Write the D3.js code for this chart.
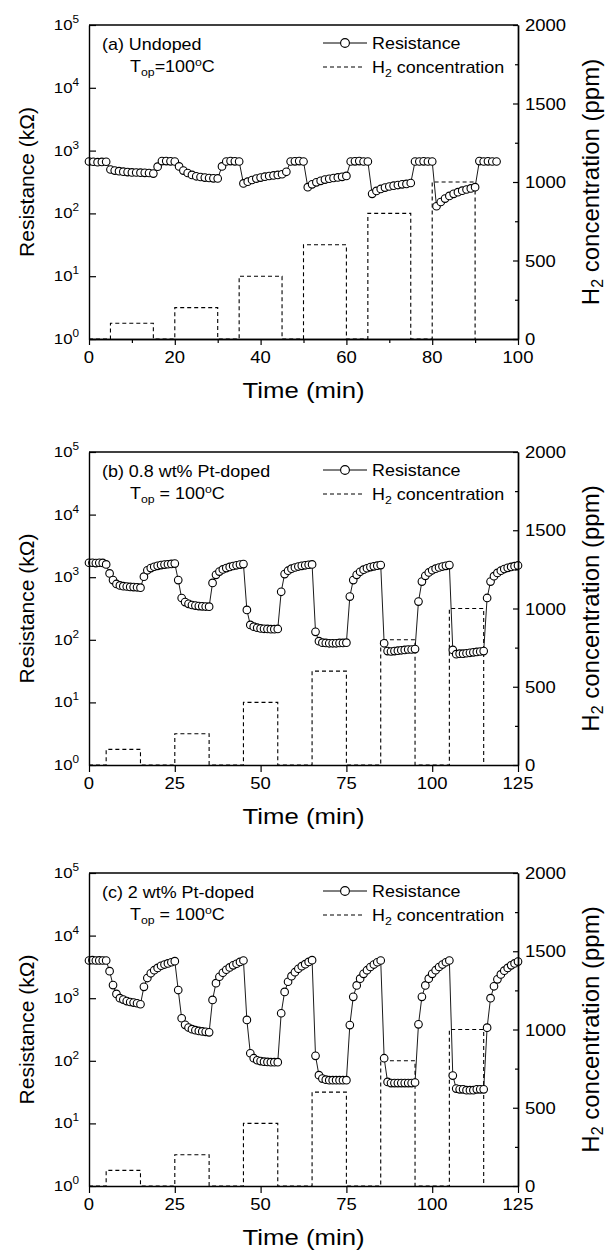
<!DOCTYPE html>
<html>
<head>
<meta charset="utf-8">
<script src="https://cdn.jsdelivr.net/npm/d3@7"></script>
<style>
  body { margin: 0; background: #fff; }
  text { font-family: "Liberation Sans", Arial, sans-serif; fill: #000; }
  .axis path, .axis line { stroke: #000; }
</style>
</head>
<body>
<div id="chart"></div>
<script>
// resistance (kOhm), one reading per minute starting at t = 0
var resA = [670, 665, 655, 660, 665,
  500, 480, 470, 462, 455, 450, 448, 445, 442, 440, 430,
  555, 680, 680, 675, 670,
  560, 480, 440, 410, 390, 380, 372, 366, 362, 360,
  560, 670, 680, 675, 670,
  300, 320, 340, 358, 372, 384, 394, 402, 410, 420,
  460, 670, 675, 680, 670,
  262, 290, 312, 330, 345, 356, 366, 374, 382, 395,
  670, 675, 680, 670, 670,
  205, 228, 245, 258, 268, 276, 283, 290, 295, 305,
  670, 670, 675, 670, 670,
  130, 152, 172, 190, 205, 218, 230, 240, 250, 262,
  680, 670, 675, 670, 670];

var resB = [1700, 1700, 1680, 1700, 1690,
  1600, 1150, 900, 780, 740, 720, 710, 700, 695, 690, 680,
  1020, 1290, 1400, 1470, 1520, 1560, 1590, 1610, 1630, 1650,
  900, 465, 400, 375, 360, 352, 346, 342, 340, 338,
  810, 1090, 1230, 1330, 1400, 1460, 1510, 1550, 1590, 1620,
  300, 173, 162, 156, 152, 150, 149, 148, 148, 149,
  585, 1120, 1270, 1370, 1430, 1480, 1520, 1550, 1580, 1600,
  134, 95, 90, 89, 88, 88, 88, 89, 89, 90,
  490, 900, 1090, 1220, 1320, 1390, 1450, 1490, 1530, 1560,
  88, 66, 65, 66, 67, 68, 69, 70, 70, 71,
  408, 850, 1050, 1190, 1290, 1370, 1430, 1480, 1520, 1560,
  69, 59, 60, 60, 61, 62, 63, 64, 65, 66,
  466, 850, 1040, 1170, 1270, 1350, 1410, 1460, 1500, 1540];

var resC = [4000, 4050, 4000, 4020, 4000, 4000,
  2700, 1620, 1170, 1000, 950, 900, 870, 850, 830, 800,
  1520, 2100, 2500, 2800, 3050, 3300, 3450, 3600, 3750, 3900,
  1350, 478, 375, 340, 320, 308, 300, 295, 290, 285,
  940, 1740, 2200, 2550, 2850, 3100, 3350, 3550, 3800, 4000,
  450, 132, 110, 102, 99, 97, 96, 95, 95, 95,
  575, 1260, 1830, 2250, 2600, 2950, 3250, 3500, 3800, 4050,
  120, 59, 52, 50, 49, 49, 49, 49, 49, 49,
  372, 1050, 1600, 2050, 2450, 2800, 3150, 3450, 3750, 4000,
  110, 46, 44, 44, 44, 44, 44, 44, 44, 45,
  382, 1050, 1600, 2050, 2450, 2800, 3150, 3450, 3750, 4000,
  58, 36, 35, 35, 34, 34, 34, 35, 35, 35,
  338, 1000, 1550, 2000, 2400, 2750, 3050, 3350, 3600, 3850];

// H2 pulses: start time (min), duration, concentration (ppm)
var pulseStartA = [5, 20, 35, 50, 65, 80];
var pulseStartBC = [5, 25, 45, 65, 85, 105];
var pulseLen = 10;
var pulsePpm = [100, 200, 400, 600, 800, 1000];

var decades = [0, 1, 2, 3, 4, 5];
var ppmTicks = [0, 500, 1000, 1500, 2000];
var ppmMinor = [250, 750, 1250, 1750];
var timeTicksA = [0, 20, 40, 60, 80, 100];
var timeMinorA = [10, 30, 50, 70, 90];
var timeTicksBC = [0, 25, 50, 75, 100, 125];

var panels = [
  {top: 25, bottom: 339, xmax: 100, res: resA, starts: pulseStartA, ticks: timeTicksA, minor: timeMinorA,
   label: "(a) Undoped", tsep: "=", tick: 6},
  {top: 452, bottom: 765, xmax: 125, res: resB, starts: pulseStartBC, ticks: timeTicksBC, minor: [],
   label: "(b) 0.8 wt% Pt-doped", tsep: " = ", tick: 7},
  {top: 873, bottom: 1186, xmax: 125, res: resC, starts: pulseStartBC, ticks: timeTicksBC, minor: [],
   label: "(c) 2 wt% Pt-doped", tsep: " = ", tick: 7}
];

var W = 609, H = 1251;
var left = 89, right = 518;
var SX = 1.12; // the original lettering is a bit wide

var svg = d3.select("#chart").append("svg")
  .attr("width", W).attr("height", H);

function stext(g, x, y, anchor, size) {
  return g.append("text")
    .attr("transform", "translate(" + x + "," + y + ") scale(" + SX + ",1)")
    .attr("text-anchor", anchor)
    .style("font-size", size + "px");
}

function drawPanel(p) {
  var g = svg.append("g");
  var x = d3.scaleLinear().domain([0, p.xmax]).range([left, right]);
  var yL = d3.scaleLog().domain([1, 1e5]).range([p.bottom, p.top]);
  var yR = d3.scaleLinear().domain([0, 2000]).range([p.bottom, p.top]);

  // H2 concentration as a dashed step line
  var steps = [[0, 0]];
  for (var i = 0; i < p.starts.length; i++) {
    var s = p.starts[i], e = s + pulseLen;
    steps.push([s, 0], [s, pulsePpm[i]], [e, pulsePpm[i]], [e, 0]);
  }
  var ppmLine = d3.line()
    .x(function (d) { return x(d[0]); })
    .y(function (d) { return yR(d[1]); });
  g.append("path")
    .attr("d", ppmLine(steps))
    .attr("fill", "none")
    .attr("stroke", "#000")
    .attr("stroke-width", 1.1)
    .attr("stroke-dasharray", "4,3");

  // resistance line + open circles
  var resLine = d3.line()
    .x(function (d, i) { return x(i); })
    .y(function (d) { return yL(d); });
  g.append("path")
    .attr("d", resLine(p.res))
    .attr("fill", "none")
    .attr("stroke", "#000")
    .attr("stroke-width", 0.9);
  g.selectAll(".pt")
    .data(p.res)
    .enter().append("circle")
    .attr("class", "pt")
    .attr("cx", function (d, i) { return x(i); })
    .attr("cy", function (d) { return yL(d); })
    .attr("r", 3.8)
    .attr("fill", "#fff")
    .attr("stroke", "#000")
    .attr("stroke-width", 1.1);

  // axes (ticks only, labels drawn below)
  var xAxis = d3.axisBottom(x).tickValues(p.ticks).tickSize(p.tick).tickSizeOuter(0).tickFormat("");
  g.append("g").attr("class", "axis")
    .attr("transform", "translate(0," + p.bottom + ")")
    .call(xAxis);
  if (p.minor.length) {
    g.append("g").attr("class", "axis")
      .attr("transform", "translate(0," + p.bottom + ")")
      .call(d3.axisBottom(x).tickValues(p.minor).tickSize(4).tickSizeOuter(0).tickFormat(""));
  }
  g.append("g").attr("class", "axis")
    .attr("transform", "translate(" + left + ",0)")
    .call(d3.axisRight(yL).tickValues(decades.map(function (d) { return Math.pow(10, d); }))
      .tickSize(7).tickSizeOuter(0).tickFormat(""));
  g.append("g").attr("class", "axis")
    .attr("transform", "translate(" + right + ",0)")
    .call(d3.axisLeft(yR).tickValues(ppmTicks).tickSize(5).tickSizeOuter(0).tickFormat(""));
  g.append("g").attr("class", "axis")
    .attr("transform", "translate(" + right + ",0)")
    .call(d3.axisLeft(yR).tickValues(ppmMinor).tickSize(3).tickSizeOuter(0).tickFormat(""));
  g.append("line")
    .attr("x1", left).attr("x2", right)
    .attr("y1", p.top).attr("y2", p.top)
    .attr("stroke", "#000");
  g.selectAll(".axis path, line").attr("stroke-width", 1.4);
  g.selectAll(".axis .tick line").attr("stroke-width", 1.2);

  // tick labels
  p.ticks.forEach(function (t) {
    stext(g, x(t), p.bottom + 24, "middle", 16.5).text(t);
  });
  decades.forEach(function (d) {
    var t = stext(g, 79, yL(Math.pow(10, d)) + 5, "end", 15);
    t.append("tspan").text("10");
    t.append("tspan").attr("dy", -7).style("font-size", "10.5px").text(d);
  });
  ppmTicks.forEach(function (v) {
    stext(g, 525, yR(v) + 6, "start", 16.5).text(v);
  });

  // axis titles
  stext(g, (left + right) / 2, p.bottom + 59, "middle", 23).text("Time (min)");
  var mid = (p.top + p.bottom) / 2;
  g.append("text")
    .attr("transform", "translate(34," + mid + ") rotate(-90)")
    .attr("text-anchor", "middle")
    .style("font-size", "21px")
    .text("Resistance (k\u03A9)");
  var rt = g.append("text")
    .attr("transform", "translate(599," + mid + ") rotate(-90)")
    .attr("text-anchor", "middle")
    .style("font-size", "24px");
  rt.append("tspan").text("H");
  rt.append("tspan").attr("dy", 4).style("font-size", "16px").text("2");
  rt.append("tspan").attr("dy", -4).text(" concentration (ppm)");

  // panel annotation
  stext(g, 102, p.top + 25, "start", 16).text(p.label);
  var tp = stext(g, 130, p.top + 47, "start", 16);
  tp.append("tspan").text("T");
  tp.append("tspan").attr("dy", 4).style("font-size", "11px").text("op");
  tp.append("tspan").attr("dy", -4).text(p.tsep + "100");
  tp.append("tspan").attr("dy", -6).style("font-size", "11px").text("o");
  tp.append("tspan").attr("dy", 6).text("C");

  // legend
  var ly = p.top + 18;
  g.append("line").attr("x1", 323).attr("x2", 367).attr("y1", ly).attr("y2", ly)
    .attr("stroke", "#000").attr("stroke-width", 1);
  g.append("circle").attr("cx", 345).attr("cy", ly).attr("r", 4.4)
    .attr("fill", "#fff").attr("stroke", "#000").attr("stroke-width", 1.1);
  stext(g, 372, ly + 6, "start", 16).text("Resistance");
  var ly2 = p.top + 42;
  g.append("line").attr("x1", 323).attr("x2", 365).attr("y1", ly2).attr("y2", ly2)
    .attr("stroke", "#000").attr("stroke-width", 1.1).attr("stroke-dasharray", "4,3");
  var lt = stext(g, 372, ly2 + 6, "start", 16);
  lt.append("tspan").text("H");
  lt.append("tspan").attr("dy", 4).style("font-size", "11px").text("2");
  lt.append("tspan").attr("dy", -4).text(" concentration");
}

panels.forEach(drawPanel);
</script>
</body>
</html>
